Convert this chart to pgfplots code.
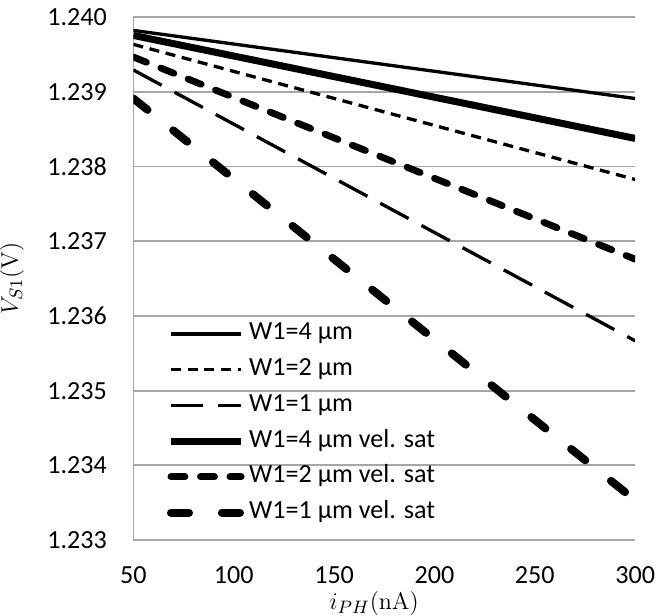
\documentclass[border=0pt]{standalone}
\usepackage[no-math]{fontspec}
\setmainfont{Carlito}
\usepackage{pgfplots}
\pgfplotsset{compat=1.18}
\definecolor{gridcol}{HTML}{A6A6A6}

\begin{document}
\fontsize{13bp}{15bp}\selectfont
\begin{tikzpicture}
\begin{axis}[
  scale only axis,
  width=250bp, height=260.5bp,
  xmin=50, xmax=300, ymin=1.233, ymax=1.240,
  xtick={50,100,...,300},
  ytick={1.233,1.234,...,1.240},
  /pgf/number format/assume math mode=true,
  yticklabel style={/pgf/number format/fixed, /pgf/number format/fixed zerofill,
    /pgf/number format/precision=3, inner xsep=0pt, xshift=-13bp},
  xticklabel style={inner ysep=0pt, inner xsep=1bp, yshift=-13bp},
  scaled y ticks=false,
  major tick length=0pt,
  ymajorgrids, grid style={gridcol, line width=0.85bp},
  axis x line*=bottom, axis y line*=left,
  axis line style={gridcol, line width=0.85bp, -},
  xlabel={$i_{PH}\mathrm{(nA)}$},
  ylabel={$V_{S1}\mathrm{(V)}$},
  every axis x label/.style={at={(rel axis cs:0.48,0)}, anchor=center, yshift=-31.5bp, inner sep=0pt},
  every axis y label/.style={at={(rel axis cs:0,0.5)}, anchor=center, xshift=-60.5bp, rotate=90, inner sep=0pt},
  legend cell align=left,
  legend style={at={(rel axis cs:0.066,0.418)}, anchor=north west, draw=none, fill=none,
    inner sep=0pt, row sep=5.8bp, column sep=0pt,
    nodes={inner ysep=0pt, inner xsep=2bp, text height=9bp, text depth=3bp},
    font=\fontsize{13bp}{15bp}\selectfont},
  legend image code/.code={\draw[#1] (0bp,0bp) -- (35bp,0bp);},
]
% W1=4 um
\addplot[black, line width=1.65bp] coordinates {(50,1.239823) (300,1.238911)};
\addlegendentry{W1=4 µm}
% W1=2 um
\addplot[black, line width=1.65bp, dash pattern=on 5bp off 3.3bp] coordinates {(50,1.239636) (300,1.237827)};
\addlegendentry{W1=2 µm}
% W1=1 um
\addplot[black, line width=1.65bp, dash pattern=on 16bp off 7.3bp] coordinates {(50,1.239293) (300,1.235667)};
\addlegendentry{W1=1 µm}
% velocity saturation
\addplot[black, line width=3.5bp] coordinates {(50,1.239756) (300,1.238377)};
\addlegendentry{W1=4 µm vel. sat}
\addplot[black, line width=3.4bp, line cap=round, dash pattern=on 7bp off 7.7bp] coordinates {(50,1.239467) (300,1.236760)};
\addlegendentry{W1=2 µm vel. sat}
\addplot[black, line width=4bp, line cap=round, dash pattern=on 9bp off 16.4bp] coordinates {(50,1.238911) (300,1.233533)};
\addlegendentry{W1=1 µm vel. sat}
\end{axis}
\end{tikzpicture}
\end{document}
